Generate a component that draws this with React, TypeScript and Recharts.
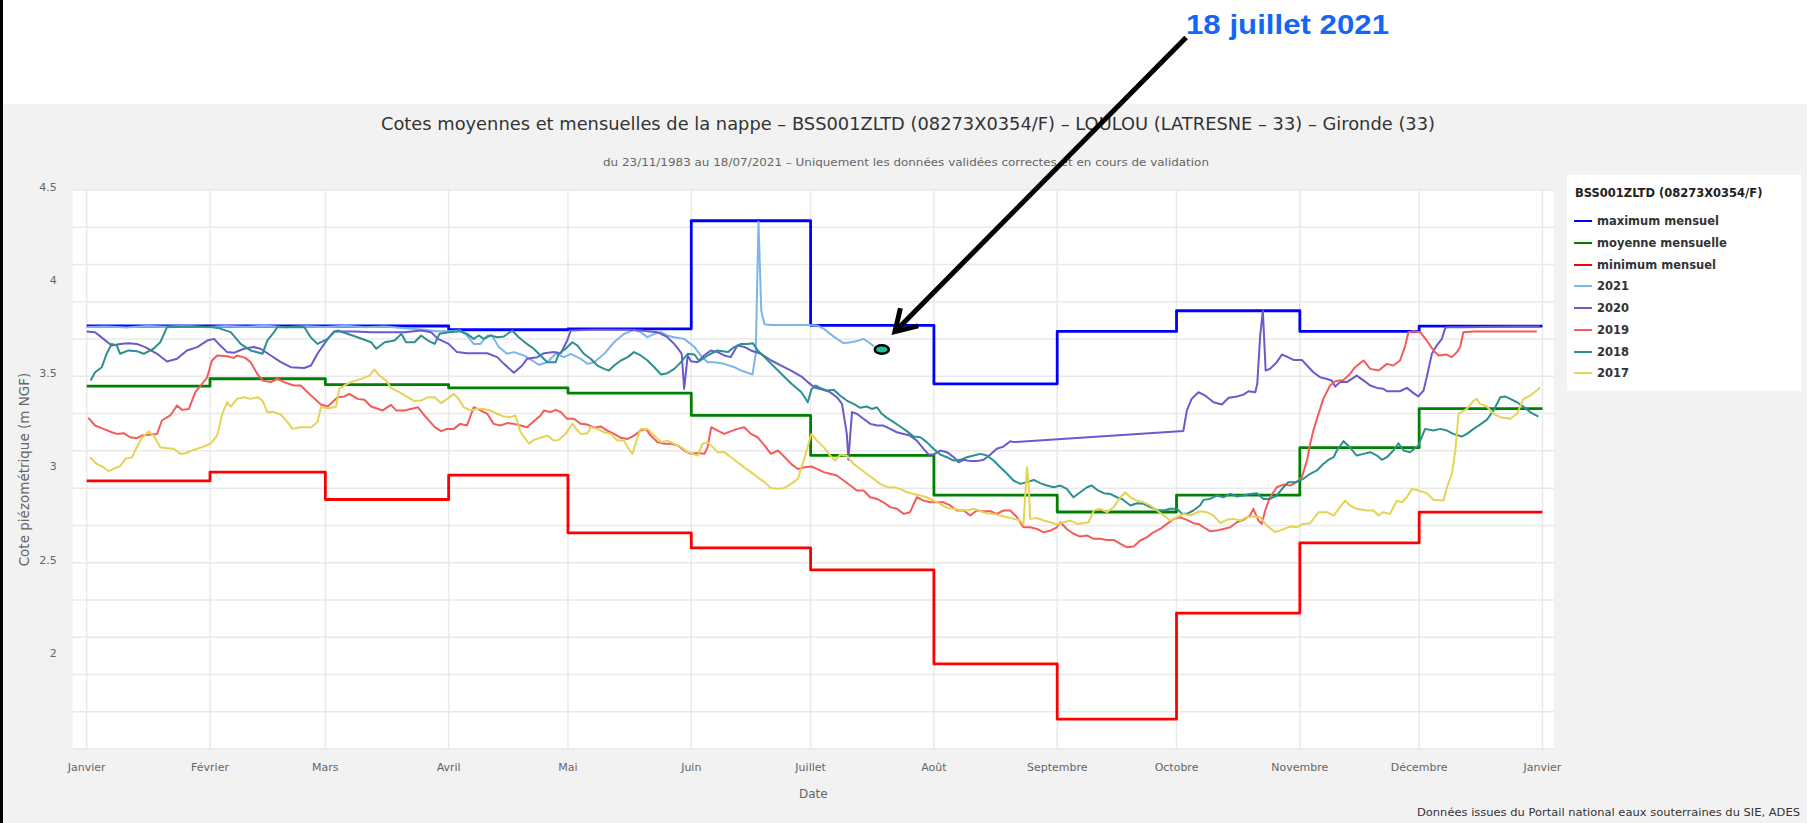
import React from 'react';
import { LineChart, Line, XAxis, YAxis, CartesianGrid, ReferenceLine, ReferenceDot } from 'recharts';

type Pt = [number, number];

// axe des x : jour de l'année (année bissextile), 0 = 1er janvier
const MONTH_START = [0, 31, 60, 91, 121, 152, 182, 213, 244, 274, 305, 335, 366];
const MONTH_LABELS = ['Janvier', 'Février', 'Mars', 'Avril', 'Mai', 'Juin', 'Juillet', 'Août', 'Septembre', 'Octobre', 'Novembre', 'Décembre', 'Janvier'];
const Y_TICKS = [2, 2.5, 3, 3.5, 4, 4.5];

// valeurs mensuelles (janvier -> décembre)
const MAX_MENSUEL = [3.77, 3.77, 3.77, 3.75, 3.755, 4.335, 3.774, 3.46, 3.741, 3.852, 3.741, 3.769];
const MOYENNE_MENSUELLE = [3.447, 3.487, 3.456, 3.438, 3.41, 3.29, 3.076, 2.862, 2.772, 2.862, 3.117, 3.327];
const MIN_MENSUEL = [2.939, 2.986, 2.839, 2.97, 2.66, 2.579, 2.461, 1.957, 1.66, 2.229, 2.606, 2.771];

const Y2021: Pt[] = [
  [0, 3.765], [5, 3.768], [10, 3.762], [15, 3.77], [20, 3.766], [25, 3.772], [30, 3.764], [35, 3.77], [40, 3.766],
  [45, 3.772], [50, 3.763], [55, 3.769], [60, 3.765], [65, 3.771], [70, 3.764], [75, 3.768], [80, 3.758], [85, 3.75],
  [88, 3.742], [91, 3.742], [93.9, 3.746], [95.6, 3.719], [97.3, 3.674], [99, 3.674], [100.7, 3.719], [101.9, 3.719],
  [103.6, 3.657], [105.7, 3.621], [107.4, 3.63], [109.9, 3.612], [112, 3.585], [113.7, 3.562], [115.8, 3.576],
  [117.9, 3.621], [120, 3.603], [121.7, 3.621], [124.2, 3.594], [125.9, 3.567], [127.6, 3.576], [130.1, 3.621],
  [132.6, 3.683], [135.1, 3.728], [137.6, 3.75], [139.3, 3.737], [141, 3.71], [142.7, 3.728], [144.4, 3.737],
  [146, 3.719], [147.7, 3.71], [150.2, 3.701], [152.8, 3.657], [154.4, 3.612], [156.1, 3.576], [157.8, 3.576],
  [160.3, 3.567], [162.8, 3.549], [164.5, 3.531], [167.4, 3.51], [168.2, 3.62], [168.9, 4.33], [169.6, 3.85],
  [170.4, 3.78], [172, 3.775], [181.3, 3.775], [183.6, 3.773], [185.3, 3.755], [186.9, 3.728], [188.6, 3.701],
  [190.3, 3.678], [192, 3.683], [193.6, 3.689], [195.3, 3.701], [196.6, 3.683], [198, 3.66],
];

const Y2020: Pt[] = [
  [0, 3.741], [2.1, 3.737], [4.2, 3.701], [6.3, 3.665], [8.4, 3.674], [10.5, 3.678], [12.6, 3.674], [14.7, 3.657],
  [17.7, 3.621], [20.2, 3.58], [22.7, 3.594], [25.2, 3.639], [27.8, 3.657], [30.3, 3.692], [32, 3.701], [33.6, 3.665],
  [35.3, 3.63], [37, 3.626], [39.5, 3.648], [42, 3.657], [43.7, 3.648], [46.3, 3.612], [48.8, 3.576], [51.3, 3.549],
  [54.7, 3.545], [56.4, 3.558], [58, 3.621], [60.6, 3.701], [62.2, 3.741], [67.3, 3.741], [71.5, 3.737], [79.9, 3.737],
  [84.1, 3.746], [86.6, 3.737], [88.3, 3.701], [91, 3.674], [93.1, 3.63], [95.6, 3.624], [98.1, 3.624], [100.7, 3.624],
  [103.2, 3.603], [104.9, 3.567], [107.4, 3.519], [109.5, 3.558], [110.7, 3.594], [113.3, 3.603], [115, 3.624],
  [117.5, 3.63], [119.2, 3.624], [120.8, 3.692], [121.7, 3.746], [126.7, 3.75], [130.9, 3.75], [136, 3.75],
  [139.3, 3.746], [143.5, 3.737], [146, 3.71], [147.7, 3.674], [149, 3.639], [149.6, 3.62], [150.2, 3.433],
  [151.1, 3.612], [151.9, 3.581], [153.6, 3.576], [155.2, 3.612], [156.9, 3.639], [158.6, 3.63], [160.3, 3.612],
  [161.9, 3.603], [163.6, 3.665], [165.4, 3.657], [167, 3.639], [169.5, 3.621], [172.1, 3.585], [174.6, 3.558],
  [177.1, 3.531], [179.7, 3.499], [181.3, 3.469], [183, 3.44], [184.7, 3.43], [186.9, 3.415], [188.6, 3.388],
  [189.9, 3.352], [191.1, 3.191], [191.5, 3.052], [192.4, 3.308], [193.6, 3.299], [195.3, 3.272], [197, 3.245],
  [198.7, 3.236], [200.3, 3.236], [202, 3.218], [203.7, 3.2], [205.4, 3.191], [207, 3.182], [208.7, 3.155],
  [210.4, 3.111], [211.7, 3.08], [212.9, 3.08], [214.6, 3.102], [216.3, 3.093], [218, 3.066], [219.2, 3.039],
  [220.5, 3.052], [222.1, 3.045], [223.8, 3.045], [225.5, 3.052], [227.2, 3.08], [228.8, 3.111], [230.5, 3.123],
  [232.2, 3.152], [233, 3.147], [275.7, 3.206], [276.6, 3.317], [277.8, 3.379], [279.5, 3.415], [281.2, 3.397],
  [283.3, 3.361], [285.4, 3.349], [287.1, 3.385], [289.2, 3.392], [290.8, 3.402], [292.1, 3.42], [293.8, 3.415],
  [294.3, 3.46], [295, 3.71], [295.7, 3.853], [296.4, 3.531], [297.5, 3.54], [299.2, 3.576], [300.5, 3.617],
  [301.7, 3.606], [303.4, 3.588], [305.5, 3.588], [306.8, 3.558], [308.4, 3.522], [310.1, 3.495], [311.8, 3.486],
  [313, 3.478], [313.9, 3.445], [315.1, 3.469], [316.8, 3.469], [319.3, 3.504], [321, 3.478], [322.7, 3.451],
  [324.4, 3.438], [326, 3.433], [326.9, 3.42], [328.5, 3.42], [330.2, 3.42], [331.9, 3.438], [333.6, 3.41],
  [334.8, 3.392], [336.1, 3.424], [336.9, 3.495], [338.2, 3.621], [339.4, 3.665], [340.7, 3.701], [341.5, 3.755],
  [341.9, 3.764], [346.2, 3.764], [358.7, 3.767], [365.4, 3.767],
];

const Y2019: Pt[] = [
  [0.4, 3.277], [2.1, 3.236], [4.2, 3.218], [6.3, 3.2], [7.6, 3.191], [9.3, 3.195], [10.9, 3.173], [12.6, 3.168],
  [13.9, 3.182], [15.6, 3.186], [17.7, 3.191], [18.9, 3.263], [21, 3.29], [22.7, 3.343], [24, 3.32], [25.7, 3.325],
  [27.3, 3.415], [29, 3.46], [30.3, 3.495], [31.5, 3.585], [32.8, 3.612], [35.3, 3.608], [37, 3.599], [37.8, 3.612],
  [39.9, 3.599], [41.2, 3.576], [42.9, 3.513], [44.2, 3.478], [46.3, 3.469], [47.9, 3.487], [49.6, 3.469],
  [52.1, 3.451], [53.8, 3.451], [56.4, 3.397], [58.9, 3.349], [60.6, 3.338], [63.1, 3.388], [64.8, 3.392],
  [66, 3.406], [68.1, 3.379], [69.8, 3.374], [71.5, 3.338], [74.4, 3.317], [76.5, 3.347], [77.8, 3.317],
  [79.9, 3.317], [83.3, 3.334], [84.9, 3.29], [87.5, 3.227], [89.1, 3.206], [90.6, 3.218], [92.3, 3.218],
  [93.9, 3.245], [95.6, 3.236], [97.3, 3.334], [99, 3.317], [100.7, 3.299], [102.3, 3.245], [104, 3.236],
  [105.7, 3.249], [107.4, 3.245], [109.1, 3.236], [110.7, 3.227], [112.4, 3.259], [114.1, 3.29], [115, 3.317],
  [116.6, 3.308], [117.9, 3.32], [119.2, 3.308], [120.8, 3.272], [122.5, 3.272], [124.2, 3.245], [125.9, 3.241],
  [127.6, 3.224], [129.2, 3.231], [130.9, 3.209], [132.6, 3.191], [134.3, 3.17], [136, 3.164], [137.6, 3.182],
  [139.3, 3.209], [140.6, 3.218], [141.8, 3.182], [143.5, 3.147], [145.2, 3.138], [146.9, 3.138], [148.6, 3.129],
  [150.2, 3.102], [151.9, 3.084], [153.6, 3.088], [155.3, 3.084], [156.1, 3.12], [157, 3.227], [158.6, 3.209],
  [160.3, 3.191], [162, 3.206], [163.6, 3.218], [165.3, 3.227], [167, 3.191], [168.7, 3.173], [170.4, 3.129],
  [172, 3.084], [173.8, 3.102], [175.5, 3.066], [177.1, 3.03], [178.8, 3.003], [180.5, 3.012], [182.2, 3.016],
  [183.6, 3.003], [185.3, 2.986], [186.9, 2.977], [188.6, 2.968], [190.3, 2.941], [192, 2.914], [193.6, 2.887],
  [195.3, 2.887], [197, 2.851], [198.7, 2.842], [200.3, 2.824], [202, 2.798], [203.7, 2.789], [205.4, 2.762],
  [207, 2.771], [208.7, 2.851], [210.4, 2.833], [212.1, 2.824], [213.8, 2.824], [215.4, 2.824], [217.1, 2.807],
  [218.8, 2.78], [220.5, 2.78], [222.1, 2.753], [223.8, 2.78], [225.5, 2.776], [227.2, 2.776], [228.8, 2.762],
  [230.5, 2.78], [232.2, 2.78], [233.9, 2.744], [235.5, 2.69], [237.2, 2.69], [238.9, 2.681], [240.6, 2.663],
  [242.3, 2.672], [243.9, 2.69], [244.8, 2.717], [246.4, 2.681], [248.1, 2.655], [249.8, 2.64], [251.5, 2.646],
  [253.1, 2.628], [254.8, 2.628], [256.5, 2.622], [258.2, 2.622], [259.9, 2.601], [261.5, 2.583], [263.2, 2.587],
  [264.9, 2.619], [266.6, 2.637], [268.2, 2.663], [269.9, 2.681], [271.6, 2.708], [273.3, 2.735], [274.9, 2.744],
  [276.6, 2.73], [278.2, 2.712], [279.5, 2.708], [280.8, 2.69], [282.4, 2.669], [284.1, 2.672], [285.8, 2.681],
  [287.5, 2.69], [289.2, 2.717], [290.8, 2.73], [292.5, 2.753], [293.3, 2.789], [294.6, 2.726], [295.4, 2.708],
  [296.3, 2.78], [297.5, 2.851], [299.2, 2.905], [300.9, 2.919], [302.6, 2.914], [304.2, 2.932], [305.5, 2.959],
  [306.8, 3.048], [307.6, 3.138], [308.4, 3.209], [309.7, 3.299], [310.9, 3.379], [312.6, 3.451], [313.9, 3.474],
  [316, 3.481], [317.6, 3.513], [318.9, 3.549], [321, 3.585], [322.7, 3.54], [324.8, 3.531], [326.9, 3.567],
  [328.5, 3.558], [330.2, 3.585], [331.5, 3.665], [332.3, 3.737], [333.6, 3.742], [335.3, 3.737], [336.9, 3.692],
  [338.6, 3.639], [339.9, 3.612], [341.9, 3.617], [343.2, 3.603], [344.5, 3.63], [345.3, 3.657], [346.1, 3.737],
  [348.7, 3.741], [364.6, 3.741],
];

const Y2018: Pt[] = [
  [1, 3.478], [2.1, 3.522], [3.8, 3.549], [5, 3.621], [6.3, 3.674], [7.6, 3.665], [8.4, 3.621], [10.5, 3.639],
  [12.6, 3.635], [14.3, 3.621], [16.8, 3.648], [18.5, 3.683], [20.2, 3.764], [25, 3.768], [31, 3.765], [33, 3.76],
  [36.2, 3.737], [38.7, 3.674], [41.2, 3.639], [44.2, 3.621], [45.4, 3.692], [47.1, 3.737], [47.9, 3.764],
  [54.7, 3.765], [56.3, 3.71], [58, 3.674], [60.6, 3.701], [62.2, 3.737], [63.1, 3.746], [68.1, 3.71], [71.5, 3.683],
  [72.8, 3.648], [74.9, 3.683], [77.4, 3.692], [79.1, 3.728], [80.3, 3.683], [82.4, 3.683], [84.1, 3.719],
  [85.8, 3.692], [87.5, 3.674], [88.7, 3.728], [91, 3.737], [93.9, 3.742], [95.6, 3.728], [97.3, 3.701],
  [98.6, 3.719], [99.8, 3.701], [101.5, 3.719], [103.2, 3.71], [104.9, 3.714], [107, 3.746], [108.6, 3.71],
  [110.7, 3.674], [112.4, 3.648], [114.1, 3.612], [115.8, 3.576], [117.9, 3.576], [118.7, 3.621], [120.4, 3.648],
  [122.1, 3.683], [123.4, 3.665], [125, 3.621], [126.7, 3.594], [128.4, 3.558], [130.1, 3.54], [131.3, 3.531],
  [132.6, 3.558], [134.3, 3.585], [136, 3.603], [137.6, 3.63], [139.3, 3.612], [141, 3.585], [142.7, 3.549],
  [144.4, 3.51], [146, 3.517], [147.7, 3.54], [149.4, 3.576], [151.1, 3.621], [152.8, 3.617], [154, 3.581],
  [156.1, 3.612], [158.6, 3.639], [161.2, 3.63], [162.8, 3.657], [164.5, 3.674], [166.2, 3.674], [167.5, 3.678],
  [168.7, 3.639], [170.4, 3.603], [172.1, 3.567], [173.8, 3.531], [175.5, 3.495], [177.2, 3.46], [179.7, 3.415],
  [181.3, 3.361], [182.2, 3.43], [183.2, 3.451], [184.4, 3.438], [186.1, 3.424], [187.8, 3.428], [189.4, 3.397],
  [191.1, 3.37], [192.8, 3.352], [194.5, 3.331], [196.1, 3.338], [197.4, 3.325], [198.7, 3.334], [199.9, 3.299],
  [201.2, 3.277], [202.9, 3.254], [204.5, 3.231], [206.2, 3.206], [207.9, 3.177], [209.6, 3.173], [211.2, 3.147],
  [212.9, 3.111], [214.6, 3.08], [216.3, 3.066], [217.9, 3.048], [219.6, 3.052], [221.3, 3.066], [223, 3.075],
  [224.7, 3.084], [226.3, 3.075], [228, 3.048], [229.7, 3.012], [231.4, 2.977], [233, 2.941], [234.7, 2.923],
  [236.4, 2.932], [238.1, 2.944], [239.7, 2.927], [241.4, 2.914], [243.1, 2.905], [244.8, 2.914], [246.4, 2.896],
  [248.1, 2.851], [249.8, 2.878], [251.5, 2.905], [252.7, 2.914], [254, 2.891], [255.7, 2.873], [257.3, 2.869],
  [259, 2.851], [260.3, 2.842], [262.4, 2.807], [264.1, 2.819], [265.7, 2.816], [267.4, 2.798], [269.1, 2.783],
  [270.8, 2.78], [272.4, 2.789], [274.1, 2.789], [275.4, 2.762], [276.6, 2.762], [278.2, 2.78], [279.9, 2.807],
  [280.8, 2.837], [282.4, 2.842], [284.1, 2.86], [285.8, 2.851], [287.5, 2.869], [289.2, 2.855], [290.8, 2.86],
  [292.5, 2.869], [294.2, 2.873], [295.9, 2.842], [297.5, 2.842], [299.2, 2.86], [300.9, 2.905], [302.1, 2.932],
  [303.8, 2.932], [305.9, 2.95], [307.6, 2.977], [309.3, 2.995], [310.9, 3.03], [312.2, 3.052], [313.5, 3.066],
  [314.3, 3.102], [316, 3.152], [317.7, 3.116], [319.3, 3.075], [321, 3.084], [322.7, 3.093], [324.4, 3.075],
  [325.6, 3.052], [326.9, 3.066], [328.5, 3.102], [329.8, 3.141], [331.1, 3.102], [332.7, 3.093], [334.8, 3.129],
  [336.5, 3.218], [338.6, 3.209], [340.3, 3.218], [342, 3.209], [343.6, 3.191], [345.7, 3.177], [347, 3.191],
  [348.7, 3.218], [350.3, 3.241], [352, 3.266], [353.7, 3.317], [355.4, 3.388], [356.6, 3.392], [357.9, 3.379],
  [359.6, 3.361], [361.2, 3.338], [362.9, 3.308], [365, 3.284],
];

const Y2017: Pt[] = [
  [0.8, 3.066], [2.5, 3.03], [4.2, 3.012], [5.5, 2.991], [6.7, 3.003], [8.4, 3.018], [9.7, 3.057], [11.4, 3.066],
  [12.6, 3.12], [13.9, 3.17], [15.6, 3.204], [16.8, 3.182], [18.5, 3.12], [20.2, 3.114], [21.9, 3.111], [23.5, 3.084],
  [24.8, 3.087], [26.9, 3.105], [29, 3.12], [31.1, 3.138], [32.8, 3.182], [34.1, 3.299], [35.3, 3.361], [36.2, 3.338],
  [37.8, 3.379], [39.5, 3.388], [41.2, 3.379], [42.9, 3.388], [44.2, 3.37], [45.4, 3.308], [47.1, 3.308],
  [48.8, 3.295], [50.5, 3.254], [51.7, 3.218], [53.8, 3.227], [56.4, 3.227], [58, 3.254], [58.9, 3.334], [61, 3.329],
  [62.7, 3.338], [63.5, 3.433], [64.8, 3.451], [66.4, 3.469], [69, 3.486], [71.1, 3.504], [72.3, 3.537],
  [73.6, 3.504], [75.3, 3.478], [76.5, 3.438], [78.6, 3.415], [80.7, 3.388], [82.4, 3.367], [84.1, 3.37],
  [85.8, 3.388], [87.5, 3.388], [89.1, 3.356], [90.6, 3.379], [92.3, 3.406], [93.5, 3.379], [94.8, 3.334],
  [96.5, 3.317], [98.1, 3.325], [99.8, 3.325], [101.5, 3.317], [103.2, 3.299], [104.9, 3.284], [106.5, 3.281],
  [107.8, 3.29], [109.1, 3.2], [111.2, 3.138], [112.4, 3.159], [114.1, 3.17], [115.8, 3.182], [117.5, 3.155],
  [118.7, 3.159], [120.4, 3.191], [122.1, 3.245], [123.4, 3.209], [124.2, 3.191], [125.9, 3.195], [126.7, 3.227],
  [128.4, 3.218], [130.1, 3.2], [131.8, 3.191], [133.4, 3.155], [135.1, 3.155], [136, 3.12], [137.2, 3.084],
  [138.5, 3.173], [139.3, 3.218], [141, 3.218], [142.7, 3.182], [144.4, 3.147], [146, 3.155], [147.7, 3.138],
  [149.4, 3.12], [151.1, 3.093], [152.8, 3.08], [153.6, 3.075], [154.8, 3.138], [156.1, 3.147], [157.4, 3.12],
  [158.6, 3.093], [160.3, 3.093], [162, 3.066], [163.6, 3.039], [165.3, 3.012], [167, 2.986], [168.6, 2.959],
  [170.4, 2.932], [172, 2.901], [173.7, 2.896], [175.4, 2.901], [177.1, 2.923], [178.8, 2.95], [180.5, 3.066],
  [182.2, 3.191], [183.6, 3.155], [185.3, 3.12], [186.9, 3.075], [188.2, 3.048], [189.4, 3.08], [191.1, 3.075],
  [192.8, 3.03], [194.5, 3.003], [196.1, 2.977], [197.8, 2.95], [199.5, 2.923], [201.2, 2.905], [202.9, 2.905],
  [204.5, 2.896], [206.2, 2.878], [207.9, 2.869], [209.6, 2.86], [211.2, 2.851], [212.9, 2.833], [214.6, 2.816],
  [216.3, 2.794], [217.9, 2.789], [219.6, 2.783], [221.3, 2.78], [223, 2.789], [224.7, 2.776], [226.3, 2.765],
  [228, 2.762], [229.7, 2.753], [231.4, 2.744], [233, 2.735], [234.7, 2.726], [235.5, 2.705], [236.4, 3.012],
  [236.8, 2.932], [237.2, 2.735], [238.9, 2.74], [240.6, 2.726], [242.3, 2.717], [243.9, 2.705], [245.6, 2.717],
  [247.3, 2.726], [249, 2.708], [250.6, 2.712], [251.9, 2.717], [253.2, 2.78], [254.8, 2.789], [256.5, 2.771],
  [258.2, 2.798], [259.9, 2.851], [261.1, 2.878], [262.4, 2.851], [264, 2.833], [265.7, 2.824], [267.4, 2.807],
  [269.1, 2.78], [270.8, 2.753], [272.4, 2.726], [274.1, 2.744], [275.8, 2.762], [277.5, 2.753], [279.9, 2.776],
  [281.6, 2.771], [283.3, 2.753], [285, 2.712], [286.6, 2.73], [288.3, 2.735], [290, 2.726], [291.7, 2.744],
  [293.3, 2.748], [295, 2.744], [296.7, 2.699], [298.8, 2.664], [300.5, 2.676], [302.6, 2.694], [304.2, 2.69],
  [305.9, 2.708], [307.6, 2.712], [309.7, 2.771], [311.8, 2.771], [313.5, 2.753], [315.1, 2.798], [316.4, 2.833],
  [317.6, 2.807], [319.3, 2.789], [321.8, 2.78], [323.5, 2.78], [324.8, 2.753], [326, 2.771], [327.7, 2.762],
  [329.4, 2.833], [330.6, 2.824], [331.9, 2.851], [333.2, 2.896], [334.8, 2.887], [336.9, 2.873], [338.6, 2.837],
  [341.1, 2.833], [342, 2.905], [343.2, 2.977], [344.1, 3.102], [344.9, 3.299], [347, 3.325], [348.7, 3.37],
  [349.5, 3.379], [350.3, 3.352], [352, 3.338], [353.7, 3.299], [355.4, 3.281], [357.9, 3.272], [359.6, 3.299],
  [361.2, 3.379], [362.9, 3.397], [364.6, 3.424], [365.4, 3.442],
];

// point du 18 juillet 2021 et flèche d'annotation (coordonnées jour / cote)
const JULY18: Pt = [199.9, 3.644];
const ARROW_FROM: Pt = [276.4, 5.319];
const ARROW_TO: Pt = [203.2, 3.74];

const FONT = '"DejaVu Sans", Verdana, sans-serif';

const toRows = (pts: Pt[]) => pts.map(([d, v]) => ({ d, v }));
const stepRows = (vals: number[]) => MONTH_START.map((d, i) => ({ d, v: vals[Math.min(i, vals.length - 1)] }));

const SERIES = [
  { name: 'maximum mensuel', color: '#0000ff', rows: stepRows(MAX_MENSUEL), step: true },
  { name: 'moyenne mensuelle', color: '#008000', rows: stepRows(MOYENNE_MENSUELLE), step: true },
  { name: 'minimum mensuel', color: '#ff0000', rows: stepRows(MIN_MENSUEL), step: true },
  { name: '2021', color: '#7cb5ec', rows: toRows(Y2021), step: false },
  { name: '2020', color: '#6a5acd', rows: toRows(Y2020), step: false },
  { name: '2019', color: '#f45b5b', rows: toRows(Y2019), step: false },
  { name: '2018', color: '#2b908f', rows: toRows(Y2018), step: false },
  { name: '2017', color: '#e4d354', rows: toRows(Y2017), step: false },
];

const GRID_Y = Array.from({ length: 31 }, (_, i) => Math.round((1.5 + i * 0.1) * 10) / 10);

function ArrowShape(p: any) {
  const { x1, y1, x2, y2 } = p;
  const ang = Math.atan2(y1 - y2, x1 - x2);
  const len = 24;
  const spread = 0.55;
  const a = [x2 + len * Math.cos(ang + spread), y2 + len * Math.sin(ang + spread)];
  const b = [x2 + len * Math.cos(ang - spread), y2 + len * Math.sin(ang - spread)];
  return (
    <g>
      <line x1={x1} y1={y1} x2={x2 + 2 * Math.cos(ang)} y2={y2 + 2 * Math.sin(ang)} stroke="#000" strokeWidth={5} />
      <polyline points={`${a[0]},${a[1]} ${x2},${y2} ${b[0]},${b[1]}`} fill="none" stroke="#000" strokeWidth={5} strokeLinejoin="miter" />
    </g>
  );
}

function DotShape(p: any) {
  return <ellipse cx={p.cx} cy={p.cy} rx={7} ry={4.3} fill="#1fc39b" stroke="#000" strokeWidth={2.5} />;
}

function YTitle(p: any) {
  const vb = p.viewBox || { y: 190, height: 559 };
  const cy = vb.y + vb.height / 2;
  return (
    <text x={23.5} y={cy} transform={`rotate(-90, 23.5, ${cy})`} textAnchor="middle" dominantBaseline="central"
      fill="#666" fontSize={13.5} fontFamily={FONT}>
      Cote piézométrique (m NGF)
    </text>
  );
}

export default function App() {
  return (
    <div style={{ position: 'absolute', left: 0, top: 0, width: 1810, height: 823, background: '#fff', overflow: 'hidden', fontFamily: FONT }}>
      <div style={{ position: 'absolute', left: 0, top: 0, width: 3, height: 823, background: '#000' }} />
      <div style={{ position: 'absolute', left: 3, top: 104, width: 1804, height: 719, background: '#f2f2f2' }} />

      <svg width={1810} height={823} style={{ position: 'absolute', left: 0, top: 0 }}>
        <text x={1186} y={33.5} fontSize={28} fontWeight="bold" fontFamily='"Liberation Sans", Arial, sans-serif'
          fill="#1566f5" textLength={203} lengthAdjust="spacingAndGlyphs">18 juillet 2021</text>
        <text x={908} y={130} textAnchor="middle" fontSize={17} fill="#333" fontFamily={FONT}
          textLength={1054} lengthAdjust="spacingAndGlyphs">
          Cotes moyennes et mensuelles de la nappe – BSS001ZLTD (08273X0354/F) – LOULOU (LATRESNE – 33) – Gironde (33)
        </text>
        <text x={906} y={165.5} textAnchor="middle" fontSize={11} fill="#666" fontFamily={FONT}
          textLength={606} lengthAdjust="spacingAndGlyphs">
          du 23/11/1983 au 18/07/2021 – Uniquement les données validées correctes et en cours de validation
        </text>
        <text x={1800} y={815.5} textAnchor="end" fontSize={11} fill="#333" fontFamily={FONT}
          textLength={383} lengthAdjust="spacingAndGlyphs">
          Données issues du Portail national eaux souterraines du SIE, ADES
        </text>
      </svg>

      <div style={{ position: 'absolute', left: 0, top: 0 }}>
        <LineChart width={1810} height={823} margin={{ top: 190, right: 256, bottom: 14, left: 12.7 }}>
          <CartesianGrid fill="#ffffff" stroke="#e9e9e9" strokeWidth={1.5}
            horizontalValues={GRID_Y} verticalValues={MONTH_START} />
          <XAxis type="number" dataKey="d" domain={[-3.52, 368.9]} ticks={MONTH_START} allowDataOverflow interval={0}
            height={60} axisLine={false} tickLine={false} tickSize={6} tickMargin={8}
            tickFormatter={(v: number) => MONTH_LABELS[MONTH_START.indexOf(v)] ?? ''}
            tick={{ fontSize: 11, fill: '#666', fontFamily: FONT }}
            label={{ value: 'Date', position: 'insideBottom', offset: 11, fill: '#666', fontSize: 12, fontFamily: FONT }} />
          <YAxis type="number" dataKey="v" domain={[1.5, 4.5]} ticks={Y_TICKS} allowDataOverflow
            width={60} axisLine={false} tickLine={false} tickSize={6} tickMargin={10}
            tickFormatter={(v: number) => String(v)}
            tick={{ fontSize: 11, fill: '#666', fontFamily: FONT, dy: -3 }}
            label={{ content: YTitle }} />
          {SERIES.map((s) => (
            <Line key={s.name} data={s.rows} dataKey="v" name={s.name} type={s.step ? 'stepAfter' : 'linear'}
              stroke={s.color} strokeWidth={s.step ? 2.8 : 2} dot={false} activeDot={false}
              isAnimationActive={false} strokeLinejoin="round" />
          ))}
          <ReferenceDot x={JULY18[0]} y={JULY18[1]} ifOverflow="visible" shape={DotShape} />
          <ReferenceLine segment={[{ x: ARROW_FROM[0], y: ARROW_FROM[1] }, { x: ARROW_TO[0], y: ARROW_TO[1] }]}
            ifOverflow="visible" shape={ArrowShape} />
        </LineChart>
      </div>

      <div style={{ position: 'absolute', left: 1567, top: 175, width: 234, height: 216, background: '#fff',
        fontFamily: FONT, fontWeight: 'bold', fontSize: 11.5, color: '#333' }}>
        <div style={{ position: 'absolute', left: 8, top: 11, whiteSpace: 'nowrap', lineHeight: '14px', color: '#222' }}>
          BSS001ZLTD (08273X0354/F)
        </div>
        {SERIES.map((s, i) => (
          <div key={s.name} style={{ position: 'absolute', left: 7, top: 39 + i * 21.75, height: 14, display: 'flex',
            alignItems: 'center', whiteSpace: 'nowrap' }}>
            <span style={{ display: 'inline-block', width: 18, height: 2, background: s.color, marginRight: 5 }} />
            <span>{s.name}</span>
          </div>
        ))}
      </div>
    </div>
  );
}
